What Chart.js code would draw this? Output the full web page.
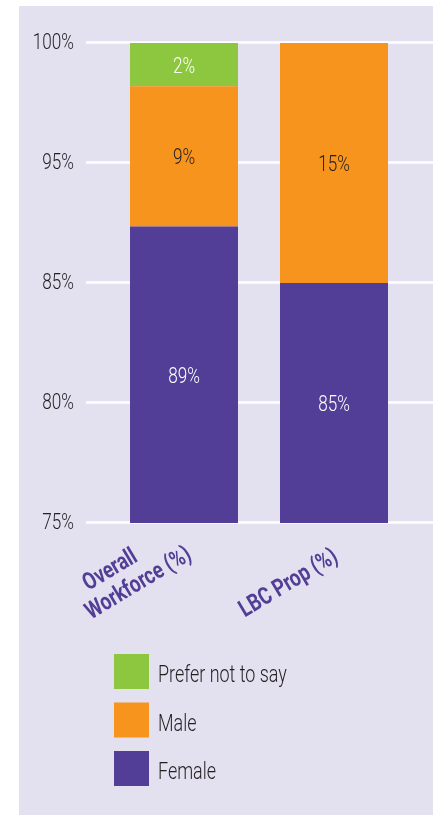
<!DOCTYPE html>
<html>
<head>
<meta charset="utf-8">
<script src="https://cdn.jsdelivr.net/npm/chart.js@4.4.0/dist/chart.umd.min.js"></script>
<style>
  html, body { margin: 0; padding: 0; background: #fff; }
  #panel { position: absolute; left: 19px; top: 6px; width: 414px; height: 809px; background: #e3e1f0; }
  #wrap { position: absolute; left: 0; top: 0; width: 433px; height: 815px; }
</style>
</head>
<body>
<div id="panel"></div>
<div id="wrap"><canvas id="genderChart"></canvas></div>
<script>
const categories = [['Overall', 'Workforce (%)'], ['LBC Prop (%)']];
const yTickLabels = ['75%', '80%', '85%', '95%', '100%'];

// bar segments as drawn, in gridline steps (axis is not linear in %)
const femaleHeights = [2.47, 2.0];
const maleHeights = [1.17, 2.0];
const preferHeights = [0.36, 0];

// values printed on the bars
const femaleLabels = ['89%', '85%'];
const maleLabels = ['9%', '15%'];
const preferLabels = ['2%', ''];

const FONT = "Roboto, 'Noto Sans', sans-serif";
const NARROW = 0.78;   // squeeze text horizontally, no condensed face installed
const TEXT = '#231f20';
const PURPLE = '#523e97';

function narrowText(ctx, txt, x, y, font, align) {
    ctx.save();
    ctx.translate(x, y);
    ctx.scale(NARROW, 1);
    ctx.font = font;
    ctx.textAlign = align;
    ctx.textBaseline = 'alphabetic';
    ctx.fillText(txt, 0, 0);
    ctx.restore();
}

// white gridlines, running wider than the plot area, plus tick labels
const gridPlugin = {
    id: 'gridLines',
    beforeDatasetsDraw(chart) {
        const ctx = chart.ctx;
        const y = chart.scales.y;
        ctx.save();
        ctx.strokeStyle = '#ffffff';
        ctx.lineWidth = 2.5;
        ctx.fillStyle = TEXT;
        yTickLabels.forEach((lbl, i) => {
            const py = Math.round(y.getPixelForValue(i)) - 0.5;
            ctx.beginPath();
            ctx.moveTo(86, py);
            ctx.lineTo(chart.width, py);
            ctx.stroke();
            narrowText(ctx, lbl, 74, py + 6, '300 22px ' + FONT, 'right');
        });
        ctx.restore();
    }
};

const barLabelPlugin = {
    id: 'barLabels',
    afterDatasetsDraw(chart) {
        const ctx = chart.ctx;
        chart.data.datasets.forEach((ds, di) => {
            chart.getDatasetMeta(di).data.forEach((bar, i) => {
                const txt = ds.valueLabels[i];
                if (!txt) return;
                const { x, y, base } = bar.getProps(['x', 'y', 'base'], true);
                ctx.fillStyle = ds.labelColor;
                narrowText(ctx, txt, x, (y + base) / 2 + 8, '300 22px ' + FONT, 'center');
            });
        });
    }
};

// rotated category names; last line centred under an anchor left of the tick
const xLabelPlugin = {
    id: 'xLabels',
    afterDraw(chart) {
        const ctx = chart.ctx;
        const xs = chart.scales.x;
        const angle = 31 * Math.PI / 180;
        const lineH = 26;
        ctx.save();
        ctx.font = 'bold 24px ' + FONT;
        ctx.fillStyle = PURPLE;
        ctx.textAlign = 'left';
        ctx.textBaseline = 'alphabetic';
        categories.forEach((lines, i) => {
            const px = xs.getPixelForTick(i) - 42;
            const py = xs.top + 66;
            const last = lines.length - 1;
            const lastW = ctx.measureText(lines[last]).width;
            ctx.save();
            ctx.translate(px, py);
            ctx.rotate(-angle);
            ctx.scale(NARROW, 1);
            lines.forEach((l, k) => {
                const indent = k < last ? 16 : 0;
                ctx.fillText(l, -lastW / 2 + indent, (k - last) * lineH);
            });
            ctx.restore();
        });
        ctx.restore();
    }
};

const legendPlugin = {
    id: 'boxLegend',
    afterDraw(chart) {
        const ctx = chart.ctx;
        const items = chart.data.datasets.slice().reverse();
        items.forEach((ds, i) => {
            const top = 654 + i * 48.5;
            ctx.fillStyle = ds.backgroundColor;
            ctx.fillRect(114, top, 35, 35);
            ctx.fillStyle = TEXT;
            narrowText(ctx, ds.label, 158, top + 28, '300 23px ' + FONT, 'left');
        });
    }
};

const ctx = document.getElementById('genderChart').getContext('2d');
new Chart(ctx, {
    type: 'bar',
    data: {
        labels: categories,
        datasets: [
            { label: 'Female', data: femaleHeights, valueLabels: femaleLabels, backgroundColor: PURPLE, labelColor: '#ffffff' },
            { label: 'Male', data: maleHeights, valueLabels: maleLabels, backgroundColor: '#f7941d', labelColor: TEXT },
            { label: 'Prefer not to say', data: preferHeights, valueLabels: preferLabels, backgroundColor: '#8dc63f', labelColor: '#ffffff' }
        ]
    },
    options: {
        responsive: true,
        maintainAspectRatio: false,
        animation: false,
        devicePixelRatio: 1,
        datasets: {
            bar: { barPercentage: 0.72, categoryPercentage: 1, borderWidth: 0 }
        },
        layout: { padding: { left: 19, top: 43, right: 24, bottom: 162 } },
        plugins: {
            legend: { display: false },
            tooltip: { enabled: false }
        },
        scales: {
            x: {
                stacked: true,
                grid: { display: false },
                border: { display: false },
                ticks: { display: false },
                afterFit: s => { s.height = 130; }
            },
            y: {
                stacked: true,
                min: 0,
                max: 4,
                grid: { display: false },
                border: { display: false },
                ticks: { display: false, stepSize: 1 },
                afterFit: s => { s.width = 90; }
            }
        }
    },
    plugins: [gridPlugin, barLabelPlugin, xLabelPlugin, legendPlugin]
});
</script>
</body>
</html>
